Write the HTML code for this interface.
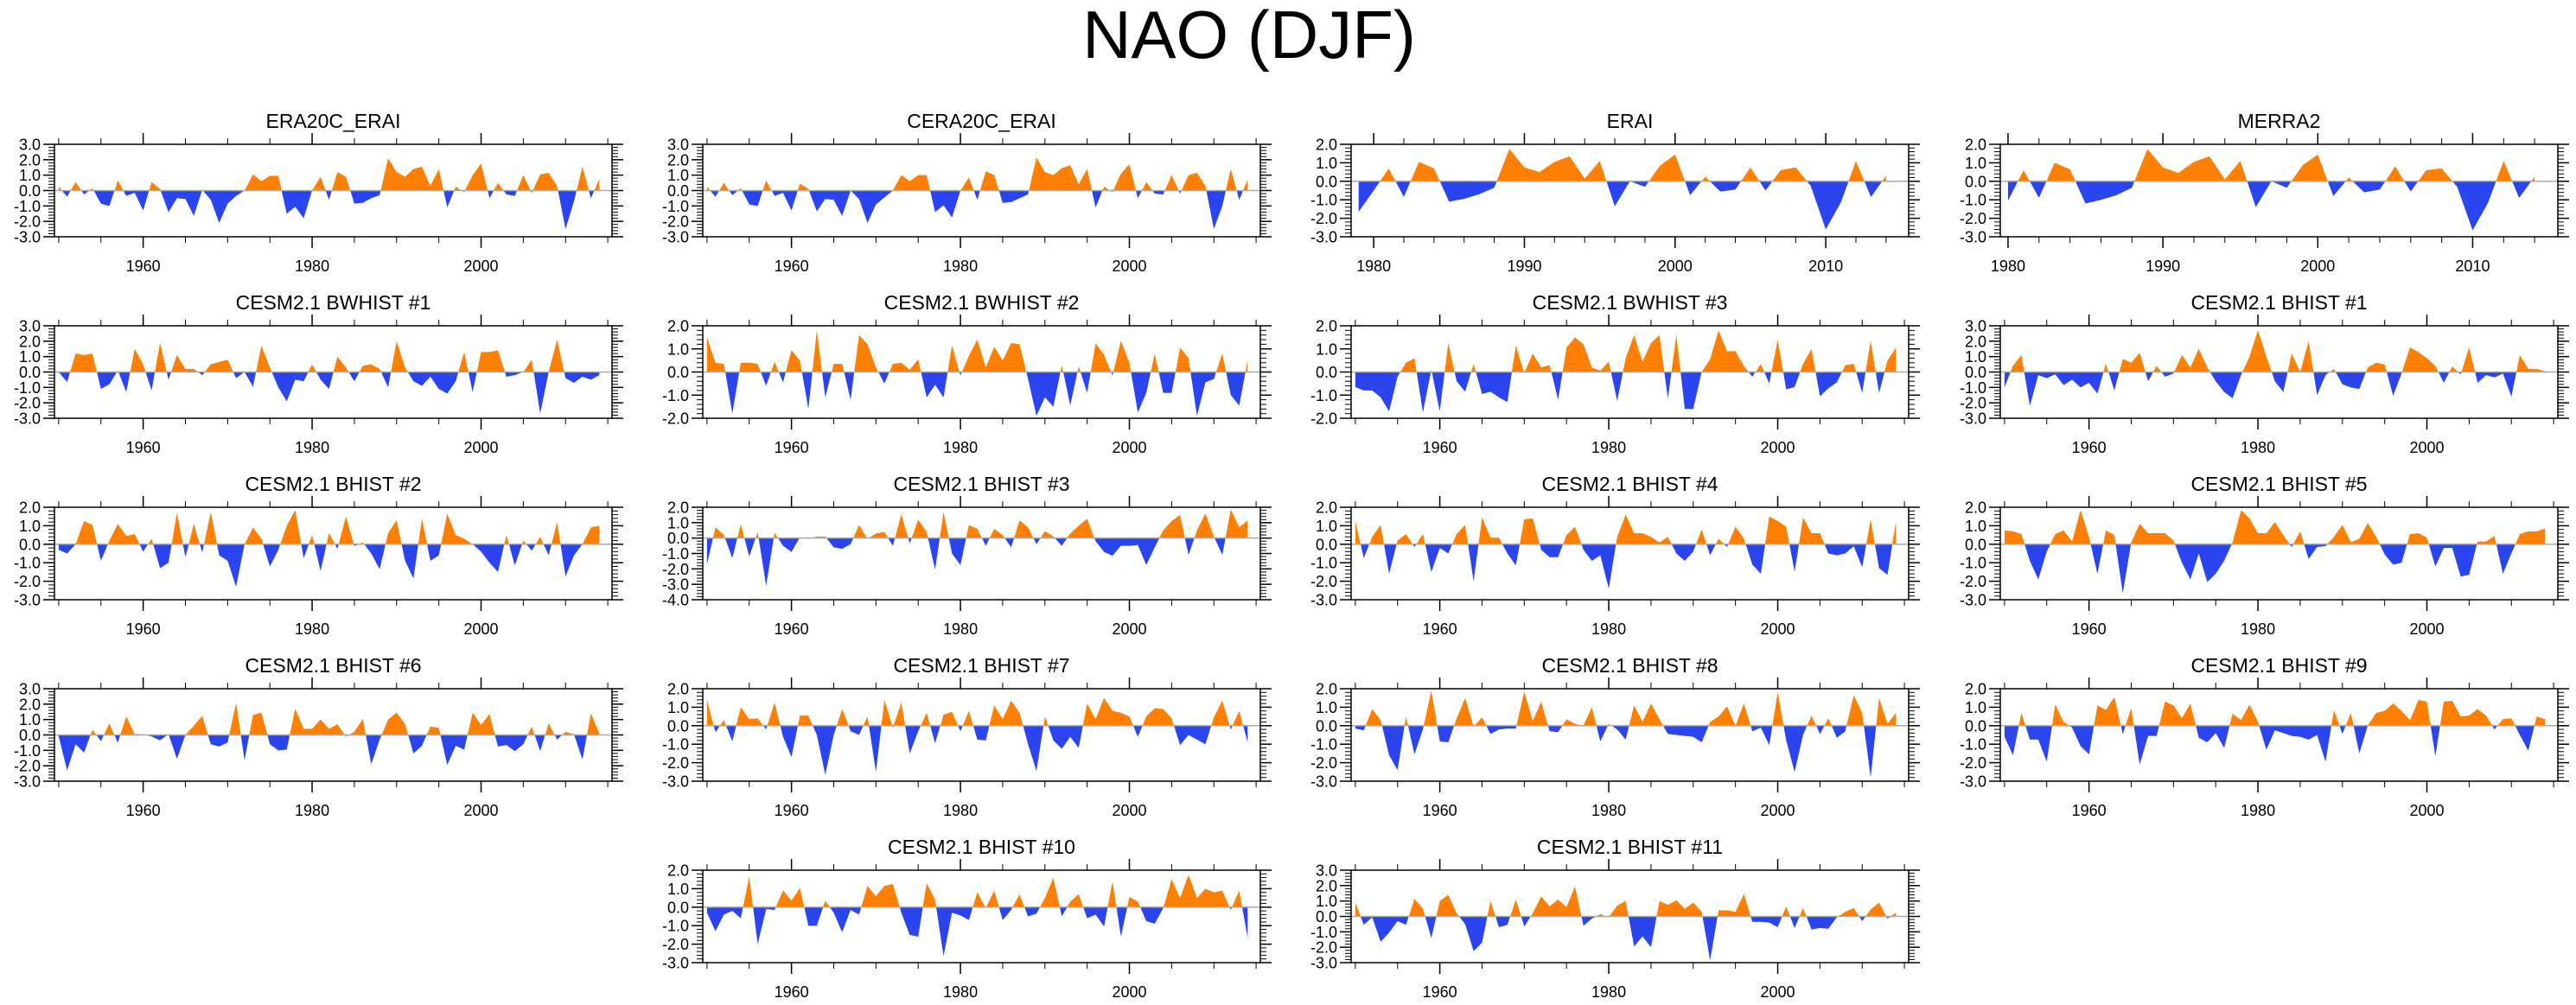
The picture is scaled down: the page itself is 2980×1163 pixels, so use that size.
<!DOCTYPE html>
<html><head><meta charset="utf-8"><style>
html,body{margin:0;padding:0;background:#fff;}
svg{display:block;font-family:"Liberation Sans",Arial,sans-serif;}
</style></head><body>
<svg id="fig" width="2980" height="1163" viewBox="0 0 2980 1163" xmlns="http://www.w3.org/2000/svg">
<text x="1445" y="67" text-anchor="middle" font-size="78">NAO (DJF)</text>
</svg>
<script>
const titles = ["ERA20C_ERAI","CERA20C_ERAI","ERAI","MERRA2","CESM2.1 BWHIST #1","CESM2.1 BWHIST #2","CESM2.1 BWHIST #3","CESM2.1 BHIST #1","CESM2.1 BHIST #2","CESM2.1 BHIST #3","CESM2.1 BHIST #4","CESM2.1 BHIST #5","CESM2.1 BHIST #6","CESM2.1 BHIST #7","CESM2.1 BHIST #8","CESM2.1 BHIST #9","CESM2.1 BHIST #10","CESM2.1 BHIST #11"];
const startYears = [1950,1950,1979,1980,1950,1950,1950,1950,1950,1950,1950,1950,1950,1950,1950,1950,1950,1950];
const yMins = [-3,-3,-3,-3,-3,-2,-2,-3,-3,-4,-3,-3,-3,-3,-3,-3,-3,-3];
const yMaxs = [3,3,2,2,3,2,2,3,2,2,2,2,3,2,2,2,2,3];
const sEra20c = [0.25,-0.4,0.55,-0.25,0.15,-0.85,-1.0,0.65,-0.35,-0.15,-1.3,0.55,0.1,-1.4,-0.5,-0.55,-1.65,0.05,-0.6,-2.1,-0.85,-0.35,0.0,1.05,0.6,0.95,0.95,-1.5,-1.05,-1.8,0.0,0.9,-0.6,1.2,0.9,-0.85,-0.8,-0.5,-0.3,2.1,1.2,0.9,1.4,1.55,0.3,1.4,-1.1,0.25,-0.1,1.0,1.75,-0.5,0.5,-0.25,-0.35,1.0,-0.15,1.05,1.15,0.3,-2.5,-0.7,1.55,-0.5,0.75];
const sCera20c = [0.25,-0.4,0.5,-0.3,0.15,-0.9,-1.0,0.65,-0.35,-0.15,-1.3,0.45,0.1,-1.35,-0.55,-0.6,-1.65,0.0,-0.55,-2.1,-0.9,-0.45,0.0,1.0,0.6,1.0,1.0,-1.4,-0.95,-1.75,0.0,0.85,-0.6,1.25,1.0,-0.8,-0.75,-0.5,-0.25,2.15,1.2,1.0,1.45,1.65,0.4,1.4,-1.1,0.25,-0.1,1.1,1.7,-0.5,0.55,-0.2,-0.25,1.0,-0.2,1.0,1.15,0.3,-2.5,-1.0,1.4,-0.6,0.7];
const sErai = [-1.65,-0.5,0.7,-0.85,1.05,0.7,-1.1,-0.95,-0.7,-0.35,1.75,0.75,0.5,1.05,1.35,0.15,1.1,-1.35,0.0,-0.3,0.85,1.45,-0.75,0.25,-0.55,-0.45,0.75,-0.5,0.6,0.75,-0.25,-2.6,-1.15,1.1,-0.85,0.3];
const sMerra2 = [-1.05,0.6,-0.9,1.0,0.65,-1.2,-1.0,-0.75,-0.35,1.75,0.75,0.45,1.05,1.35,0.1,1.1,-1.4,0.0,-0.35,0.85,1.45,-0.8,0.2,-0.6,-0.45,0.8,-0.55,0.6,0.7,-0.3,-2.65,-1.15,1.1,-0.9,0.25];
const sBw1 = [0.0,-0.65,1.2,1.1,1.2,-1.1,-0.8,0.1,-1.3,1.5,0.5,-1.2,1.9,-0.5,1.1,0.2,0.2,-0.2,0.5,0.65,0.8,-0.4,0.0,-0.95,1.7,0.3,-1.0,-1.9,-0.5,-0.6,0.5,-0.5,-1.1,1.0,0.3,-0.6,0.4,0.5,0.2,-1.0,2.0,0.3,-0.6,-0.9,-0.3,-1.1,-1.4,-0.6,1.3,-1.3,1.3,1.3,1.4,-0.3,-0.2,0.0,0.8,-2.7,0.0,2.1,-0.4,-0.7,-0.3,-0.5,-0.2];
const sBw2 = [1.5,0.4,0.35,-1.8,0.4,0.4,0.35,-0.6,0.45,-0.45,0.95,0.5,-1.6,1.8,-1.1,0.35,0.35,-1.2,1.6,1.2,0.2,-0.5,0.35,0.4,0.1,0.55,-1.1,-0.55,-1.1,1.15,-0.15,0.7,1.4,0.2,1.1,0.5,1.25,1.2,-0.3,-1.9,-1.1,-1.5,0.3,-1.45,0.25,-0.9,1.25,0.75,-0.15,1.35,0.4,-1.75,-0.9,0.8,-0.9,-0.9,1.05,0.6,-1.9,-0.45,-0.3,0.8,-1.0,-1.45,0.5];
const sBw3 = [-0.65,-0.8,-0.8,-1.1,-1.7,-0.2,0.4,0.6,-1.75,0.1,-1.7,1.25,-0.4,-0.85,0.35,-0.95,-0.85,-1.1,-1.3,1.15,-0.05,0.8,0.2,0.3,-1.2,1.05,1.5,1.2,0.2,0.05,0.45,-1.25,0.6,1.6,0.45,1.25,1.6,-1.15,1.6,-1.6,-1.6,0.0,0.55,1.8,0.9,0.9,0.25,-0.2,0.35,-0.5,1.4,-0.75,-0.65,0.35,1.0,-1.05,-0.7,-0.45,0.3,0.35,-0.9,1.35,-0.9,0.5,1.05];
const sBh1 = [-1.0,0.4,1.1,-2.2,-0.2,-0.4,-0.15,-0.85,-0.5,-1.0,-0.7,-1.4,0.55,-1.2,0.85,0.6,1.25,-0.6,0.4,-0.3,-0.1,1.1,0.3,1.5,0.3,-0.6,-1.3,-1.7,-0.2,1.0,2.7,1.0,-0.6,-1.3,1.2,0.0,2.0,-1.5,-0.2,0.2,-0.8,-1.0,-1.1,0.3,0.6,0.5,-1.55,-0.1,1.6,1.3,0.9,0.4,-0.7,0.35,-0.15,1.6,-0.7,-0.2,-0.35,-0.1,-1.6,1.1,0.2,0.2,0.05];
const sBh2 = [-0.3,-0.5,0.0,1.25,1.05,-0.9,0.2,1.1,0.45,0.55,-0.4,0.3,-1.3,-1.0,1.7,-0.7,1.1,-0.45,1.75,-0.6,-0.9,-2.3,0.0,0.9,0.3,-1.2,-0.3,1.0,1.85,-0.75,0.5,-1.45,0.6,-0.25,1.5,-0.1,0.1,-0.5,-1.35,0.6,1.3,-0.9,-1.85,1.4,-0.9,-0.6,1.65,0.5,0.3,0.0,-0.4,-1.0,-1.5,0.5,-1.15,0.2,-0.35,0.4,-0.6,1.2,-1.75,-0.6,0.0,0.9,1.0];
const sBh3 = [-1.7,0.7,0.2,-1.3,0.9,-1.2,0.4,-3.1,0.35,-0.5,-0.9,0.05,-0.05,0.1,0.1,-0.6,-0.7,-0.4,0.85,-0.05,0.3,0.4,-0.5,1.55,-0.35,1.2,0.4,-2.05,1.7,-1.0,-1.75,0.85,0.6,-0.5,0.6,0.2,-0.6,1.15,0.7,-0.4,0.45,0.1,-0.5,0.3,0.8,1.25,-0.2,-0.9,-1.15,-0.5,-0.5,-0.45,-1.75,-0.6,0.5,1.1,1.5,-1.1,0.5,1.6,0.1,-1.1,1.85,0.7,1.15];
const sBh4 = [1.25,-0.75,0.4,1.05,-1.6,0.2,0.55,-0.15,0.55,-1.5,-0.2,-0.5,0.55,1.05,-2.0,1.45,0.35,0.35,-0.5,-1.15,1.35,1.4,-0.3,-0.7,-0.7,0.5,0.95,-0.3,-0.9,-0.6,-2.4,0.4,1.6,0.6,0.6,0.4,0.1,0.4,-0.5,-0.9,-0.4,0.8,-0.6,0.3,-0.15,0.95,0.3,-1.1,-1.6,1.5,1.25,0.95,-1.5,1.45,0.6,0.6,-0.5,-0.6,-0.5,-0.1,-1.25,1.35,-1.3,-1.65,1.25];
const sBh5 = [0.75,0.7,0.55,-0.9,-1.9,-0.4,0.55,0.75,0.15,1.85,0.4,-1.6,0.75,0.5,-2.65,0.1,1.1,0.6,0.6,0.6,0.2,-1.0,-1.9,-0.5,-2.05,-1.6,-0.9,0.1,1.85,1.4,0.6,0.6,1.2,0.5,-0.15,0.7,-0.8,-0.15,-0.1,0.4,1.05,0.1,0.3,1.15,0.4,-0.55,-1.1,-1.0,0.55,0.6,0.35,-1.2,-0.2,-0.2,-1.75,-1.65,0.15,0.15,0.45,-1.6,-0.5,0.55,0.7,0.7,0.85];
const sBh6 = [-0.1,-2.3,-0.6,-1.15,0.35,-0.4,0.75,-0.5,1.2,0.05,0.05,-0.1,-0.35,0.05,-1.55,0.0,0.6,1.25,-0.6,-0.75,-0.5,2.1,-1.65,1.3,1.45,-0.6,-1.0,-0.95,1.7,0.4,0.4,1.0,0.4,0.7,-0.1,0.2,1.05,-1.9,-0.3,1.0,1.45,0.7,-1.2,-0.7,0.55,0.45,-1.95,-0.7,-0.95,1.45,0.65,1.35,-0.75,-0.65,-1.05,-0.6,0.55,-1.05,0.75,-0.3,0.2,0.05,-1.6,1.4,0.1];
const sBh7 = [1.4,-0.35,0.3,-0.85,1.0,0.35,0.4,-0.2,1.25,-0.6,-1.7,0.55,0.55,-0.5,-2.65,-0.5,0.9,-0.3,-0.5,0.5,-2.5,1.4,-0.1,1.25,-1.5,-0.3,0.7,-0.95,0.6,0.75,-0.3,0.8,-0.75,-0.8,1.1,0.35,1.35,0.7,-1.0,-2.45,0.5,-0.8,-1.25,-0.6,-1.2,1.2,0.35,1.5,0.8,0.7,0.5,-0.6,0.5,0.95,0.9,0.4,-1.05,-0.5,-0.75,-1.0,0.45,1.35,-0.2,0.8,-0.9];
const sBh8 = [-0.15,-0.25,0.9,0.3,-1.6,-2.4,0.5,-1.55,-0.2,1.9,-0.85,-0.9,0.4,1.5,-0.05,0.45,-0.45,-0.2,-0.15,-0.15,1.85,0.25,1.3,-0.3,-0.35,0.35,0.1,0.0,1.0,-0.85,0.1,-0.2,-0.75,1.1,0.2,1.2,0.35,-0.45,-0.5,-0.55,-0.6,-0.9,0.2,0.5,1.05,0.0,1.2,-0.3,-0.1,-1.05,1.8,-0.8,-2.5,-0.5,0.55,-0.45,0.4,-0.65,-0.3,1.65,0.7,-2.8,1.5,0.1,0.7];
const sBh9 = [-0.6,-1.6,0.7,-0.75,-0.75,-1.95,1.15,0.2,-0.1,-1.1,-1.55,1.1,0.85,1.55,-0.45,0.95,-2.1,-0.55,-0.55,1.3,1.1,0.4,1.2,-0.65,-0.9,-0.4,-1.2,0.65,0.3,1.15,0.2,-1.3,-0.25,-0.4,-0.55,-0.6,-0.75,-0.5,-1.95,0.85,-0.45,0.7,-1.5,0.0,0.7,0.8,1.2,0.8,0.3,1.4,1.3,-1.65,1.3,1.35,0.5,0.55,0.9,0.55,-0.2,0.35,0.4,-0.5,-1.35,0.5,0.35];
const sBh10 = [-0.3,-1.3,-0.4,-0.2,-0.6,1.65,-2.0,-0.1,-0.15,0.9,0.35,1.05,-1.0,-1.0,0.35,-0.3,-1.35,-0.15,-0.4,1.15,0.6,1.15,1.25,-0.3,-1.5,-1.6,1.3,0.4,-2.65,-0.3,-0.45,-0.7,0.8,-0.05,0.9,-0.7,-0.15,0.7,-0.5,-0.35,0.5,1.6,-0.5,0.3,0.7,-0.6,-0.4,-1.05,1.4,-1.6,0.55,0.3,-0.75,-0.9,-0.05,1.5,0.5,1.75,0.5,1.0,0.8,0.9,-0.15,0.9,-1.65];
const sBh11 = [0.9,-0.55,-0.05,-1.65,-1.05,-0.3,-0.55,1.15,0.5,-1.4,1.0,1.4,0.2,-0.5,-2.25,-1.7,1.0,-0.7,-0.55,1.1,-0.65,0.2,1.3,0.65,1.1,0.6,1.95,-0.6,-0.15,0.15,-0.05,0.7,1.0,-1.95,-1.3,-2.0,1.0,0.75,1.05,0.5,0.9,0.3,-2.85,0.4,0.4,0.3,1.45,-0.35,-0.35,-0.4,-0.7,0.65,-0.75,0.55,-0.85,-0.75,-0.8,-0.05,0.3,0.55,-0.3,0.45,0.9,-0.15,0.25];
const allSeries = [sEra20c,sCera20c,sErai,sMerra2,sBw1,sBw2,sBw3,sBh1,sBh2,sBh3,sBh4,sBh5,sBh6,sBh7,sBh8,sBh9,sBh10,sBh11];
const panelCols = [0,1,2,3,0,1,2,3,0,1,2,3,0,1,2,3,1,2];
const panelRows = [0,0,0,0,1,1,1,1,2,2,2,2,3,3,3,3,4,4];

const NS = "http://www.w3.org/2000/svg";
const svg = document.getElementById('fig');
const colX = [63,813,1563,2314], rowY = [167,377,587,797,1007];
const PW = 645, PH = 107;
function mk(tag, attrs, parent){const e=document.createElementNS(NS,tag);for(const k in attrs)e.setAttribute(k,attrs[k]);parent.appendChild(e);return e;}

titles.forEach((title,i)=>{
  const L=colX[panelCols[i]], T=rowY[panelRows[i]], R=L+PW, B=T+PH;
  const data=allSeries[i], y0=startYears[i];
  const xMin=y0-0.5, xMax=2015.5, yMin=yMins[i], yMax=yMaxs[i];
  const sx=v=>L+(v-xMin)/(xMax-xMin)*PW;
  const sy=v=>B-(v-yMin)/(yMax-yMin)*PH;
  const g=mk('g',{},svg);
  
  
  const t=mk('text',{x:(L+R)/2,y:T-19,'text-anchor':'middle','font-size':23},g);
  t.textContent=title;
  
  
  const zy=sy(0);
  let d='M'+sx(y0)+','+zy;
  data.forEach((v,k)=>{d+=' L'+sx(y0+k).toFixed(2)+','+sy(v).toFixed(2);});
  d+=' L'+sx(y0+data.length-1)+','+zy+' Z';
  const cidA='ca'+i, cidB='cb'+i;
  const defs=mk('defs',{},g);
  const ca=mk('clipPath',{id:cidA},defs); mk('rect',{x:L,y:T,width:PW,height:zy-T},ca);
  const cb=mk('clipPath',{id:cidB},defs); mk('rect',{x:L,y:zy,width:PW,height:B-zy},cb);
  const pa=mk('path',{d:d,fill:'#ff8000','clip-path':'url(#'+cidA+')'},g);
  
  
  const pb=mk('path',{d:d,fill:'#2a45ee','clip-path':'url(#'+cidB+')'},g);
  
  
  const zl=mk('line',{x1:L,x2:R,y1:zy,y2:zy,stroke:'#aaaaaa','stroke-width':1.5},g);
  
  
  for(let v=yMin;v<=yMax+1e-6;v+=0.2){
    const major=Math.abs(v-Math.round(v))<1e-6, yy=sy(v), len=major?13:7;
    mk('line',{x1:L-len,x2:L,y1:yy,y2:yy,stroke:'#000','stroke-width':major?1.5:1},g);
    mk('line',{x1:R,x2:R+len,y1:yy,y2:yy,stroke:'#000','stroke-width':major?1.5:1},g);
    if(major){
      const lb=mk('text',{x:L-16,y:yy+6.5,'text-anchor':'end','font-size':18},g);
      lb.textContent=Math.round(v).toFixed(1);
      
      
    }
  }
  const short=(y0>1970), majStep=short?10:20, minStep=short?2:5;
  for(let yr=Math.ceil(xMin/minStep)*minStep; yr<=xMax; yr+=minStep){
    const major=yr%majStep===0, xx=sx(yr), len=major?13:7;
    mk('line',{x1:xx,x2:xx,y1:T-len,y2:T,stroke:'#000','stroke-width':major?1.5:1},g);
    mk('line',{x1:xx,x2:xx,y1:B,y2:B+len,stroke:'#000','stroke-width':major?1.5:1},g);
    if(major){
      const lb=mk('text',{x:xx,y:B+40,'text-anchor':'middle','font-size':18},g);
      lb.textContent=yr;
      
      
    }
  }
  const fr=mk('rect',{x:L,y:T,width:PW,height:PH,fill:'none',stroke:'#000','stroke-width':1.5},g);
  
  
});
</script>
</body></html>
